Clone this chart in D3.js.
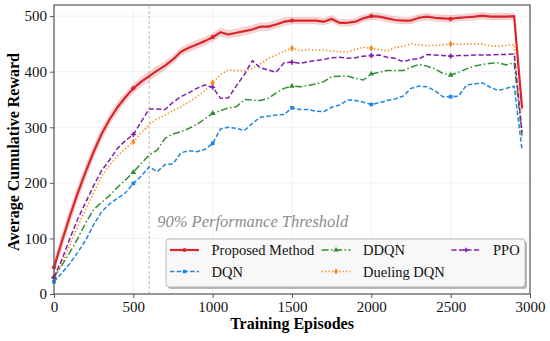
<!DOCTYPE html>
<meta charset="UTF-8">
<head>
    <title>Training reward curves</title>
</head>
<style>
    body { margin: 0; background: #fff; }
    svg { display: block; }
</style>
<body>
<div id="chart"></div>
<script src="https://d3js.org/d3.v7.min.js"></script>
<script>
// data, one value per 50 episodes
var episodes = [0, 50, 100, 150, 200, 250, 300, 350, 400, 450, 500, 550, 600, 650, 700, 750, 800, 850, 900, 950,
    1000, 1050, 1100, 1150, 1200, 1250, 1300, 1350, 1400, 1450, 1500, 1550, 1600, 1650, 1700, 1750, 1800, 1850, 1900, 1950,
    2000, 2050, 2100, 2150, 2200, 2250, 2300, 2350, 2400, 2450, 2500, 2550, 2600, 2650, 2700, 2750, 2800, 2850, 2900, 2950];

var proposed = [48, 95, 140, 182, 220, 256, 288, 314, 336, 354, 370, 382, 392, 402, 411, 422, 436, 443, 449, 455,
    462, 471, 467, 470, 473, 476, 481, 481, 485, 490, 492, 492, 492, 492, 490, 495, 488, 488, 490, 496,
    500, 499, 496, 493, 492, 492, 497, 499, 497, 496, 495, 497, 498, 499, 501, 499, 499, 499, 500, 334];
var proposedStd = [10, 12, 12, 12, 11, 10, 10, 9, 9, 8, 8, 8, 8, 8, 7, 7, 7, 7, 7, 7,
    7, 7, 7, 7, 7, 7, 7, 7, 7, 7, 6, 6, 6, 6, 6, 6, 6, 6, 6, 6,
    6, 6, 6, 6, 6, 6, 6, 6, 6, 6, 6, 6, 6, 6, 6, 6, 6, 6, 6, 6];
var dqn = [22, 38, 55, 75, 97, 125, 148, 162, 172, 182, 199, 212, 229, 220, 233, 234, 254, 258, 256, 260,
    271, 297, 300, 298, 294, 307, 318, 320, 322, 323, 335, 332, 332, 329, 328, 336, 340, 349, 348, 345,
    341, 344, 348, 351, 356, 370, 374, 373, 366, 355, 355, 356, 376, 378, 380, 372, 366, 370, 374, 259];
var ddqn = [30, 52, 75, 100, 128, 152, 165, 177, 192, 205, 219, 235, 250, 259, 280, 288, 292, 298, 305, 315,
    325, 330, 335, 337, 350, 349, 348, 352, 362, 370, 374, 373, 375, 378, 382, 391, 392, 392, 388, 385,
    396, 399, 402, 402, 402, 408, 413, 410, 405, 397, 394, 399, 405, 410, 413, 415, 416, 412, 416, 285];
var dueling = [32, 55, 88, 122, 152, 182, 212, 232, 248, 262, 274, 290, 305, 315, 322, 330, 337, 345, 355, 365,
    380, 395, 403, 402, 402, 406, 414, 424, 430, 437, 442, 438, 440, 439, 439, 437, 436, 436, 440, 444,
    442, 440, 437, 443, 446, 450, 448, 447, 447, 448, 450, 449, 450, 450, 450, 446, 446, 447, 449, 282];
var ppo = [30, 62, 100, 135, 165, 195, 222, 241, 262, 276, 287, 310, 333, 333, 332, 345, 355, 362, 370, 376,
    372, 352, 353, 375, 395, 420, 407, 403, 399, 416, 417, 415, 418, 420, 422, 425, 426, 424, 425, 428,
    429, 430, 426, 424, 418, 422, 423, 431, 430, 429, 428, 429, 429, 430, 430, 430, 431, 431, 432, 290];

var seriesNames = ["Proposed Method", "DQN", "DDQN", "Dueling DQN", "PPO"];
var xTicks = [0, 500, 1000, 1500, 2000, 2500, 3000];
var yTicks = [0, 100, 200, 300, 400, 500];
var thresholdEpisode = 600;

var W = 550, H = 341;
var m = { left: 54, right: 20, top: 5, bottom: 47 };
var serif = "'Liberation Serif'";

var svg = d3.select("#chart").append("svg")
    .attr("width", W)
    .attr("height", H);

var x = d3.scaleLinear().domain([0, 3000]).range([m.left, W - m.right]);
var y = d3.scaleLinear().domain([0, 520]).range([H - m.bottom, m.top]);

// grid
svg.append("g").selectAll("line.gx").data(xTicks).enter().append("line")
    .attr("x1", d => x(d)).attr("x2", d => x(d))
    .attr("y1", y(0)).attr("y2", y(520))
    .attr("stroke", "#ececec").attr("stroke-width", 0.8);
svg.append("g").selectAll("line.gy").data(yTicks).enter().append("line")
    .attr("x1", x(0)).attr("x2", x(3000))
    .attr("y1", d => y(d)).attr("y2", d => y(d))
    .attr("stroke", "#ececec").attr("stroke-width", 0.8);

// threshold line
svg.append("line")
    .attr("x1", x(thresholdEpisode)).attr("x2", x(thresholdEpisode))
    .attr("y1", y(0)).attr("y2", y(520))
    .attr("stroke", "#b8b8b8").attr("stroke-width", 1)
    .attr("stroke-dasharray", "3,2");

svg.append("text")
    .attr("x", x(thresholdEpisode) + 8)
    .attr("y", 227)
    .attr("font-size", "16.5px")
    .attr("font-style", "italic")
    .attr("fill", "#8c8c8c")
    .text("90% Performance Threshold");

var colors = ["#d9262b", "#1f86e6", "#2f8f2f", "#ff8418", "#7f1fb0"];
var dashes = [null, "4.5,2.2", "7,2.5,1.5,2.5", "1.3,2.2", "5,2.5"];
var widths = [2.2, 1.5, 1.5, 1.6, 1.5];
var allSeries = [proposed, dqn, ddqn, dueling, ppo];

// std band for proposed method
var band = d3.area()
    .x((d, i) => x(episodes[i]))
    .y0((d, i) => y(d - proposedStd[i]))
    .y1((d, i) => y(d + proposedStd[i]));
svg.append("path")
    .datum(proposed)
    .attr("d", band)
    .attr("fill", colors[0])
    .attr("fill-opacity", 0.2)
    .attr("stroke", colors[0])
    .attr("stroke-opacity", 0.12)
    .attr("stroke-width", 1);

var line = d3.line()
    .x((d, i) => x(episodes[i]))
    .y(d => y(d));

var symbols = [d3.symbolCircle, d3.symbolSquare, d3.symbolTriangle, d3.symbolDiamond, d3.symbolCross];

// draw baselines first, proposed last so it sits on top
[1, 2, 3, 4, 0].forEach(function (k) {
    var g = svg.append("g");
    g.append("path")
        .datum(allSeries[k])
        .attr("d", line)
        .attr("fill", "none")
        .attr("stroke", colors[k])
        .attr("stroke-width", widths[k])
        .attr("stroke-dasharray", dashes[k])
        .attr("stroke-linejoin", "round");
    var marks = allSeries[k].map((v, i) => [episodes[i], v]).filter((d, i) => i % 10 == 0);
    g.selectAll("path.mk").data(marks).enter().append("path")
        .attr("transform", d => "translate(" + x(d[0]) + "," + y(d[1]) + ")")
        .attr("d", d3.symbol().type(symbols[k]).size(14))
        .attr("fill", colors[k]);
});

// frame
svg.append("rect")
    .attr("x", x(0)).attr("y", y(520))
    .attr("width", x(3000) - x(0)).attr("height", y(0) - y(520))
    .attr("fill", "none").attr("stroke", "#555").attr("stroke-width", 1.2);

// axes
var xAxis = svg.append("g")
    .attr("transform", "translate(0," + y(0) + ")")
    .call(d3.axisBottom(x).tickValues(xTicks).tickSize(4).tickPadding(3).tickFormat(d3.format("d")));
var yAxis = svg.append("g")
    .attr("transform", "translate(" + x(0) + ",0)")
    .call(d3.axisLeft(y).tickValues(yTicks).tickSize(4).tickPadding(3).tickFormat(d3.format("d")));
[xAxis, yAxis].forEach(function (a) {
    a.select(".domain").remove();
    a.selectAll("line").attr("stroke", "#555");
    a.selectAll("text")
        .attr("font-size", "15px")
        .attr("fill", "#111");
});

svg.append("text")
    .attr("x", (x(0) + x(3000)) / 2)
    .attr("y", 329)
    .attr("text-anchor", "middle")
    .attr("font-size", "16px")
    .attr("font-weight", "bold")
    .text("Training Episodes");

svg.append("text")
    .attr("transform", "translate(19," + 152 + ") rotate(-90)")
    .attr("text-anchor", "middle")
    .attr("font-size", "16px")
    .attr("font-weight", "bold")
    .text("Average Cumulative Reward");

// legend
var lg = svg.append("g");
var lx = 166, ly = 239, lw = 359, lh = 48;
lg.append("rect")
    .attr("x", lx + 2).attr("y", ly + 2)
    .attr("width", lw).attr("height", lh)
    .attr("rx", 3).attr("fill", "#8a8a8a").attr("fill-opacity", 0.6);
lg.append("rect")
    .attr("x", lx).attr("y", ly)
    .attr("width", lw).attr("height", lh)
    .attr("rx", 3).attr("fill", "#f8f8f8").attr("stroke", "#a8a8a8").attr("stroke-width", 0.8);

var legendPos = [[170, 250], [170, 271.5], [321.5, 250], [321.5, 271.5], [451.5, 250]];
seriesNames.forEach(function (name, k) {
    var p = legendPos[k];
    lg.append("line")
        .attr("x1", p[0]).attr("x2", p[0] + 29)
        .attr("y1", p[1]).attr("y2", p[1])
        .attr("stroke", colors[k]).attr("stroke-width", widths[k])
        .attr("stroke-dasharray", dashes[k]);
    lg.append("path")
        .attr("transform", "translate(" + (p[0] + 14.5) + "," + p[1] + ")")
        .attr("d", d3.symbol().type(symbols[k]).size(12))
        .attr("fill", colors[k]);
    lg.append("text")
        .attr("x", p[0] + 41.5).attr("y", p[1] + 5)
        .attr("font-size", "14.5px")
        .attr("fill", "#111")
        .text(name);
});

// serif everywhere, like the original figure
svg.selectAll("text").style("font-family", serif);
</script>
</body>
</html>
